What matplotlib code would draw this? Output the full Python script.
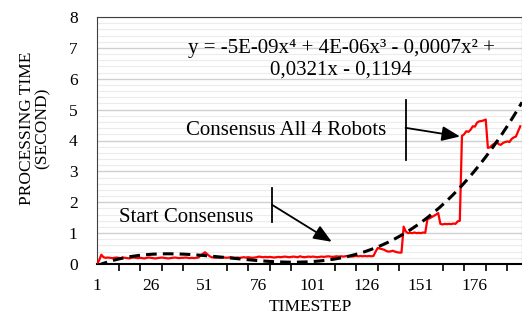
import numpy as np
import matplotlib
matplotlib.use("Agg")
import matplotlib.pyplot as plt
from matplotlib.ticker import MultipleLocator, FixedLocator

# ---- data ----
timestep_labels = [1, 26, 51, 76, 101, 126, 151, 176]
processing_time = [
    0.00, 0.12, 0.30, 0.22, 0.20, 0.21, 0.20, 0.19, 0.20, 0.21,
    0.20, 0.19, 0.21, 0.20, 0.19, 0.18, 0.20, 0.21, 0.20, 0.19,
    0.20, 0.19, 0.18, 0.20, 0.21, 0.20, 0.19, 0.18, 0.19, 0.20,
    0.21, 0.20, 0.19, 0.18, 0.19, 0.20, 0.21, 0.20, 0.19, 0.20,
    0.20, 0.21, 0.20, 0.19, 0.20, 0.19, 0.20, 0.21, 0.28, 0.33,
    0.38, 0.32, 0.26, 0.22, 0.21, 0.20, 0.21, 0.20, 0.22, 0.21,
    0.20, 0.21, 0.22, 0.21, 0.20, 0.21, 0.20, 0.21, 0.22, 0.21,
    0.22, 0.21, 0.20, 0.21, 0.22, 0.24, 0.23, 0.22, 0.23, 0.22,
    0.23, 0.22, 0.21, 0.22, 0.23, 0.22, 0.23, 0.24, 0.23, 0.22,
    0.23, 0.24, 0.23, 0.22, 0.25, 0.23, 0.22, 0.23, 0.24, 0.23,
    0.24, 0.23, 0.22, 0.23, 0.24, 0.23, 0.24, 0.25, 0.24, 0.23,
    0.24, 0.25, 0.24, 0.25, 0.24, 0.25, 0.26, 0.25, 0.24, 0.25,
    0.26, 0.25, 0.26, 0.25, 0.26, 0.25, 0.26, 0.25, 0.26, 0.40,
    0.52, 0.50, 0.48, 0.46, 0.42, 0.40, 0.41, 0.43, 0.40, 0.38,
    0.37, 0.37, 1.21, 1.05, 1.00, 1.01, 1.00, 1.02, 1.00, 1.01,
    1.00, 1.02, 1.01, 1.45, 1.48, 1.52, 1.56, 1.60, 1.65, 1.30,
    1.28, 1.30, 1.29, 1.30, 1.29, 1.31, 1.30, 1.38, 1.40, 4.15,
    4.20, 4.30, 4.28, 4.35, 4.46, 4.45, 4.58, 4.62, 4.63, 4.65,
    4.68, 3.76, 3.78, 3.85, 3.90, 3.97, 3.88, 3.86, 3.92, 3.95,
    3.97, 3.95, 4.05, 4.10, 4.13, 4.30, 4.46,
]
timesteps = np.arange(1, len(processing_time) + 1)
equation_text = "y = -5E-09x\u2074 + 4E-06x\u00b3 - 0,0007x\u00b2 +\n0,0321x - 0,1194"

plt.rcParams['font.family'] = ['Liberation Serif', 'DejaVu Serif']

fig = plt.figure(figsize=(5.22, 3.34), dpi=100)
ax = fig.add_axes([97/522, 1-264/334, 1-97/522, (264-17)/334])

# grid
ax.set_ylim(0, 8)
ax.set_xlim(1, 197.8)
ax.yaxis.set_major_locator(MultipleLocator(1))
ax.yaxis.set_minor_locator(MultipleLocator(0.2))
ax.grid(axis='y', which='major', color='#d0d0d0', lw=1.0)
ax.grid(axis='y', which='minor', color='#ececec', lw=0.8)
ax.set_axisbelow(True)

ax.plot(timesteps, processing_time, color='#ff0000', lw=1.6, zorder=3)

coef = np.polyfit(timesteps, processing_time, 4)
xs = np.linspace(1, 197.8, 300)
ax.plot(xs, np.polyval(coef, xs), color='black', lw=2.2, ls=(0, (3.5, 2)), zorder=4)

# ticks
ax.xaxis.set_major_locator(FixedLocator(timestep_labels))
ax.set_xticklabels([str(v) for v in timestep_labels])
ax.xaxis.set_minor_locator(FixedLocator(np.arange(1, 198, 10)))
ax.tick_params(axis='x', which='major', length=0, pad=10, labelsize=12.5)
ax.tick_params(axis='x', which='minor', length=5, width=1.2, direction='out', color='black')
ax.tick_params(axis='y', which='both', length=0, pad=14, labelsize=12.5)

for s in ['top', 'right', 'left']:
    ax.spines[s].set_color('#404040')
    ax.spines[s].set_linewidth(0.8)
ax.spines['bottom'].set_color('black')
ax.spines['bottom'].set_linewidth(1.5)

fig.text(310/522, 1-307/334, 'TIMESTEP', ha='center', va='center', fontsize=12.5)
fig.text(35/522, 1-128/334, 'PROCESSING TIME\n(SECOND)', ha='center', va='center',
         rotation=90, fontsize=12.5, linespacing=0.95)

ax.text(114, 6.64, equation_text, ha='center', va='center', fontsize=15, linespacing=1.2)

# annotations
aprops = dict(arrowstyle='-|>,head_length=1.1,head_width=0.45', color='black', lw=1.3,
              shrinkA=0, shrinkB=0, mutation_scale=10)
ax.plot([143.9, 143.9], [3.38, 5.32], color='black', lw=1.3)
ax.annotate('', xy=(169.1, 4.13), xytext=(143.9, 4.41), arrowprops=aprops)
ax.text(88.7, 4.32, 'Consensus All 4 Robots', ha='center', va='center', fontsize=15)

ax.plot([82, 82], [1.36, 2.47], color='black', lw=1.3)
ax.annotate('', xy=(109.7, 0.72), xytext=(82, 1.92), arrowprops=aprops)
ax.text(42.4, 1.49, 'Start Consensus', ha='center', va='center', fontsize=15)

fig.savefig('out.png', dpi=100)
